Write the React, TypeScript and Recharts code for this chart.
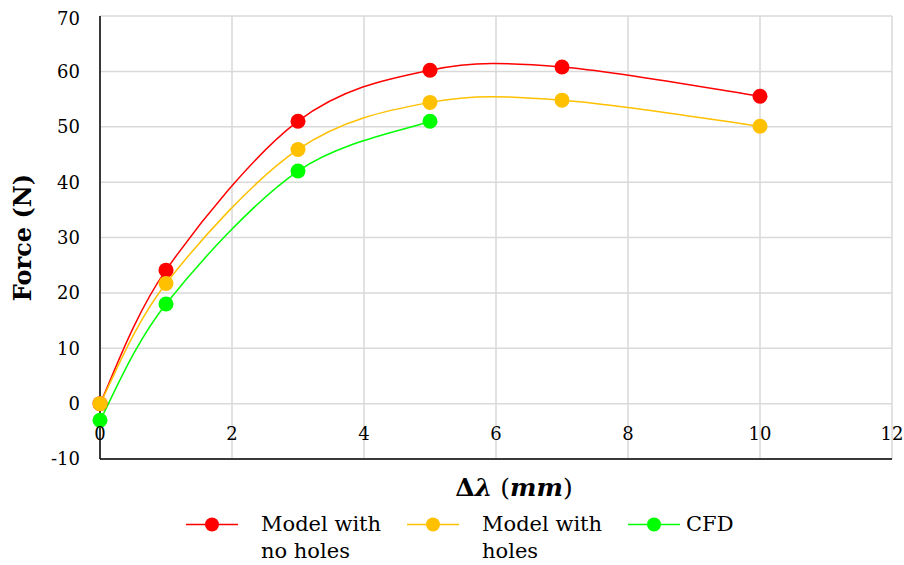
import React from 'react';
import { LineChart, Line, XAxis, YAxis, CartesianGrid, Legend } from 'recharts';

// ---- data ----
const displacement = [0, 1, 3, 5, 7, 10];
const modelNoHoles = [0, 24.1, 51.0, 60.2, 60.8, 55.5];
const modelHoles = [0, 21.7, 45.9, 54.4, 54.8, 50.1];
const cfdDisplacement = [0, 1, 3, 5];
const cfd = [-3.0, 18.0, 42.0, 51.0];

const xTicks = [0, 2, 4, 6, 8, 10, 12];
const yTicks = [-10, 0, 10, 20, 30, 40, 50, 60, 70];

const seriesNames = ['Model with no holes', 'Model with holes', 'CFD'];
const seriesColors = ['#FF0000', '#FFC000', '#00FF00'];

const noHolesData = displacement.map((x, i) => ({ x, y: modelNoHoles[i] }));
const holesData = displacement.map((x, i) => ({ x, y: modelHoles[i] }));
const cfdData = cfdDisplacement.map((x, i) => ({ x, y: cfd[i] }));

const FONT = '"DejaVu Serif", Georgia, serif';

// Excel-style smoothed line (Catmull-Rom converted to cubic Bezier)
function excelSmooth(context: any) {
  let pts: [number, number][] = [];
  return {
    areaStart() {},
    areaEnd() {},
    lineStart() {
      pts = [];
    },
    lineEnd() {
      const n = pts.length;
      if (n === 0) return;
      context.moveTo(pts[0][0], pts[0][1]);
      for (let i = 0; i < n - 1; i++) {
        const p0 = pts[i - 1] || pts[i];
        const p1 = pts[i];
        const p2 = pts[i + 1];
        const p3 = pts[i + 2] || p2;
        context.bezierCurveTo(
          p1[0] + (p2[0] - p0[0]) / 6,
          p1[1] + (p2[1] - p0[1]) / 6,
          p2[0] - (p3[0] - p1[0]) / 6,
          p2[1] - (p3[1] - p1[1]) / 6,
          p2[0],
          p2[1]
        );
      }
    },
    point(x: number, y: number) {
      pts.push([+x, +y]);
    },
  };
}

const XTick = (props: any) => {
  const { x, y, payload } = props;
  return (
    <text x={x} y={y - 19} textAnchor="middle" fontFamily={FONT} fontSize={18} fill="#000">
      {payload.value}
    </text>
  );
};

const XTitle = (props: any) => {
  const vb = props.viewBox || {};
  const cx = vb.x + vb.width / 2 + 18;
  const cy = vb.y + 37;
  return (
    <text x={cx} y={cy} textAnchor="middle" fontFamily={FONT} fontSize={25} fill="#000">
      <tspan fontWeight="bold">Δ</tspan>
      <tspan fontWeight="bold" fontStyle="italic">λ</tspan>
      <tspan> (</tspan>
      <tspan fontWeight="bold" fontStyle="italic">mm</tspan>
      <tspan>)</tspan>
    </text>
  );
};

const LegendContent = () => {
  return (
    <div
      style={{
        display: 'flex',
        paddingLeft: 178,
        paddingTop: 2,
        height: 56,
        boxSizing: 'border-box',
        fontFamily: FONT,
        fontSize: 21,
        lineHeight: '27px',
        color: '#000',
      }}
    >
      {seriesNames.map((name, i) => (
        <div key={name} style={{ display: 'flex', alignItems: 'flex-start', width: i < 2 ? 221 : 160 }}>
          <svg width={52} height={27} style={{ flex: 'none' }}>
            <line x1={0} y1={13.5} x2={52} y2={13.5} stroke={seriesColors[i]} strokeWidth={1.5} />
            <circle cx={26} cy={13.5} r={7} fill={seriesColors[i]} />
          </svg>
          <div style={{ width: 128, marginLeft: i < 2 ? 23 : 6 }}>{name}</div>
        </div>
      ))}
    </div>
  );
};

export default function App() {
  const lines = [noHolesData, holesData, cfdData];
  return (
    <div style={{ fontFamily: FONT, padding: '8px 0 0 8px', width: 896, height: 557 }}>
      <style>{'html, body { margin: 0; overflow: hidden; }'}</style>
      <LineChart width={896} height={557} margin={{ top: 8, right: 12, bottom: 0, left: 0 }}>
        <CartesianGrid stroke="#d9d9d9" strokeWidth={1.5} horizontalValues={yTicks} verticalValues={xTicks} />
        <XAxis
          dataKey="x"
          type="number"
          domain={[0, 12]}
          ticks={xTicks}
          allowDuplicatedCategory={false}
          height={50}
          tickSize={0}
          tickMargin={0}
          tickLine={false}
          axisLine={{ stroke: '#000', strokeWidth: 1.5 }}
          tick={<XTick />}
          label={<XTitle />}
        />
        <XAxis
          xAxisId="top"
          orientation="top"
          type="number"
          domain={[0, 12]}
          height={0}
          tick={false}
          tickLine={false}
          axisLine={{ stroke: '#000', strokeWidth: 1.5 }}
        />
        <YAxis
          type="number"
          domain={[-10, 70]}
          ticks={yTicks}
          width={92}
          tickSize={0}
          tickMargin={20}
          tickLine={false}
          axisLine={{ stroke: '#000', strokeWidth: 1.5 }}
          tick={{ fontFamily: FONT, fontSize: 18, fill: '#000' }}
          label={{
            value: 'Force (N)',
            angle: -90,
            position: 'center',
            dx: -32,
            fontFamily: FONT,
            fontSize: 24,
            fontWeight: 'bold',
            fill: '#000',
          }}
        />
        <YAxis
          yAxisId="right"
          orientation="right"
          type="number"
          domain={[-10, 70]}
          width={0}
          tick={false}
          tickLine={false}
          axisLine={{ stroke: '#000', strokeWidth: 1.5 }}
        />
        <Legend verticalAlign="bottom" content={<LegendContent />} wrapperStyle={{ left: 0, width: 896 }} />
        {lines.map((d, i) => (
          <Line
            key={seriesNames[i]}
            data={d}
            dataKey="y"
            name={seriesNames[i]}
            type={excelSmooth as any}
            stroke={seriesColors[i]}
            strokeWidth={1.5}
            dot={{ r: 7.5, fill: seriesColors[i], stroke: seriesColors[i], strokeWidth: 0 }}
            activeDot={false}
            isAnimationActive={false}
          />
        ))}
      </LineChart>
    </div>
  );
}
